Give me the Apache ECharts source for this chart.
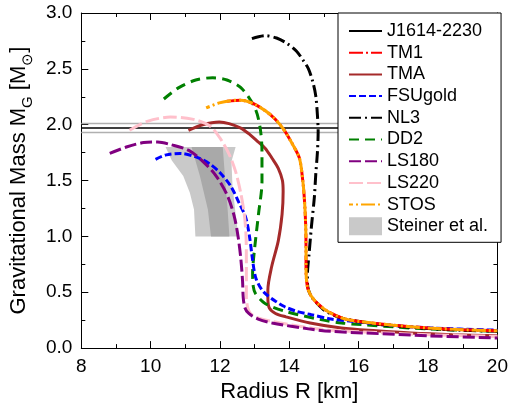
<!DOCTYPE html>
<html>
<head>
<meta charset="utf-8">
<script src="https://cdn.jsdelivr.net/npm/echarts@6/dist/echarts.min.js"></script>
<style>
  html, body { margin: 0; padding: 0; background: #fff; }
  #chart { width: 511px; height: 408px; }
</style>
</head>
<body>
<div id="chart"></div>
<script>
// Mass-radius relations [R (km), M (solar masses)] for each equation of state
const TM1 = [[12.2,2.21],[12.6,2.22],[13.02,2.18],[13.49,2.08],[13.82,1.965],[14.1,1.82],[14.29,1.70],[14.39,1.49],[14.44,1.30],[14.47,1.10],[14.48,0.90],[14.48,0.70],[14.52,0.55],[14.62,0.47],[14.81,0.40],[15.1,0.33],[15.56,0.265],[16.1,0.235],[17.0,0.205],[18.0,0.18],[19.0,0.165],[20.0,0.155]];
const STOS = [[11.6,2.15],[11.98,2.195],[12.3,2.215],[12.6,2.22],[13.02,2.18],[13.49,2.08],[13.82,1.965],[14.1,1.82],[14.29,1.70],[14.39,1.49],[14.44,1.30],[14.47,1.10],[14.48,0.90],[14.48,0.70],[14.52,0.55],[14.62,0.47],[14.81,0.40],[15.1,0.33],[15.56,0.265],[16.1,0.235],[17.0,0.205],[18.0,0.18],[19.0,0.165],[20.0,0.155]];
const TMA = [[11.09,1.95],[11.5,2.0],[11.98,2.024],[12.26,2.01],[12.6,1.97],[12.83,1.92],[13.05,1.86],[13.3,1.79],[13.5,1.70],[13.68,1.61],[13.8,1.50],[13.82,1.40],[13.79,1.20],[13.68,0.96],[13.49,0.73],[13.38,0.52],[13.38,0.45],[13.42,0.36],[13.6,0.31],[13.9,0.28],[14.6,0.225],[15.5,0.18],[16.5,0.155],[17.5,0.135],[18.7,0.12],[20.0,0.11]];
const FSUGOLD = [[10.14,1.69],[10.45,1.73],[10.85,1.743],[11.32,1.71],[11.7,1.65],[12.0,1.57],[12.31,1.45],[12.55,1.30],[12.74,1.17],[12.85,1.0],[12.93,0.81],[13.02,0.64],[13.15,0.55],[13.3,0.49],[13.6,0.42],[13.87,0.37],[14.2,0.33],[14.62,0.30],[15.2,0.26],[15.8,0.24],[16.7,0.21],[18.1,0.18],[20.0,0.16]];
const NL3 = [[12.92,2.77],[13.3,2.797],[13.63,2.776],[13.92,2.73],[14.2,2.66],[14.39,2.58],[14.55,2.50],[14.67,2.39],[14.76,2.26],[14.81,2.08],[14.83,1.935],[14.81,1.76],[14.76,1.55],[14.72,1.35],[14.64,1.10],[14.57,0.85],[14.52,0.65],[14.53,0.55],[14.62,0.47],[14.8,0.40],[15.05,0.33],[15.5,0.27],[16.3,0.225],[17.0,0.20],[18.0,0.175],[19.0,0.16],[20.0,0.15]];
const DD2 = [[10.38,2.23],[10.8,2.33],[11.3,2.40],[11.79,2.42],[12.2,2.40],[12.64,2.32],[13.02,2.14],[13.16,1.965],[13.21,1.76],[13.21,1.49],[13.11,1.20],[13.0,0.90],[12.94,0.67],[12.96,0.55],[13.02,0.49],[13.3,0.40],[13.87,0.33],[14.91,0.255],[15.5,0.225],[16.1,0.21],[17.0,0.19],[18.1,0.17],[20.0,0.152]];
const LS180 = [[8.82,1.743],[9.3,1.80],[9.8,1.84],[10.2,1.845],[10.6,1.82],[11.1,1.77],[11.51,1.67],[11.89,1.54],[12.22,1.36],[12.41,1.18],[12.52,1.0],[12.6,0.80],[12.65,0.6],[12.67,0.45],[12.72,0.36],[12.83,0.31],[13.1,0.26],[13.5,0.225],[14.6,0.17],[15.2,0.15],[16.2,0.135],[18.0,0.11],[20.0,0.09]];
const LS220 = [[9.39,1.95],[9.9,2.03],[10.57,2.068],[11.2,2.05],[11.7,1.99],[12.0,1.88],[12.27,1.73],[12.45,1.58],[12.59,1.40],[12.7,1.20],[12.75,1.0],[12.76,0.76],[12.76,0.46],[12.8,0.36],[12.88,0.31],[13.1,0.27],[13.49,0.24],[14.62,0.18],[15.2,0.16],[16.5,0.14],[18.0,0.12],[20.0,0.105]];

// Pulsar mass J1614-2230 with its uncertainty
const J1614_MASS = 1.97;
const J1614_ERR = 0.04;
const R_RANGE = [8, 20];

// Steiner et al. radius constraint: outer and inner confidence regions
const STEINER_OUTER = [[10.43,1.8],[12.45,1.8],[12.33,1.67],[12.36,1.45],[12.45,1.2],[12.53,1.0],[11.29,1.0],[11.25,1.24],[11.13,1.39],[10.94,1.54],[10.61,1.68]];
const STEINER_INNER = [[11.18,1.8],[12.08,1.8],[12.15,1.5],[12.22,1.24],[12.27,1.0],[11.74,1.0],[11.65,1.24],[11.42,1.54]];
const STEINER_POLYGONS = [STEINER_OUTER, STEINER_INNER];
const STEINER_COLORS = ['#c9c9c9', '#a9a9a9'];

const FONT = 'Liberation Sans';

const chart = echarts.init(document.getElementById('chart'), null, { renderer: 'canvas' });

function curve(name, data, color, dash, offset) {
  return {
    name: name,
    type: 'line',
    data: data,
    symbol: 'none',
    smooth: 0.3,
    clip: true,
    lineStyle: { color: color, width: 3, type: dash, dashOffset: offset || 0, cap: 'butt' },
    itemStyle: { color: color },
    emphasis: { disabled: true }
  };
}

function hline(name, m, color, width) {
  return {
    name: name,
    type: 'line',
    data: [[R_RANGE[0], m], [R_RANGE[1], m]],
    symbol: 'none',
    lineStyle: { color: color, width: width, type: 'solid' },
    itemStyle: { color: color },
    emphasis: { disabled: true }
  };
}

const axisCommon = {
  axisLine: { show: true, onZero: false, lineStyle: { color: '#000', width: 1 } },
  axisTick: { show: true, inside: true, length: 7, lineStyle: { color: '#000', width: 1 } },
  minorTick: { show: true, splitNumber: 2, length: 4, lineStyle: { color: '#000', width: 1 } },
  splitLine: { show: false },
  minorSplitLine: { show: false }
};

const option = {
  animation: false,
  backgroundColor: '#fff',
  textStyle: { fontFamily: FONT },
  grid: { left: 76, right: 11, top: 13, bottom: 56, containLabel: false },
  xAxis: [
    Object.assign({
      type: 'value', min: R_RANGE[0], max: R_RANGE[1], interval: 2, position: 'bottom',
      name: 'Radius R [km]', nameLocation: 'middle', nameGap: 30,
      nameTextStyle: { fontSize: 22, color: '#000', fontFamily: FONT },
      axisLabel: { fontSize: 19, color: '#000', margin: 9, fontFamily: FONT }
    }, axisCommon),
    Object.assign({
      type: 'value', min: R_RANGE[0], max: R_RANGE[1], interval: 2, position: 'top',
      axisLabel: { show: false }
    }, axisCommon)
  ],
  yAxis: [
    Object.assign({
      type: 'value', min: 0, max: 3, interval: 0.5, position: 'left',
      name: '{t|Gravitational Mass M}{s|G}{t| [M}{s|\u2299}{t|]}',
      nameLocation: 'middle', nameGap: 46, nameRotate: 90,
      nameTextStyle: {
        color: '#000', fontFamily: FONT,
        rich: {
          t: { fontSize: 22, lineHeight: 22, verticalAlign: 'top', color: '#000', fontFamily: FONT },
          s: { fontSize: 15, lineHeight: 27, verticalAlign: 'bottom', color: '#000', fontFamily: FONT }
        }
      },
      axisLabel: { fontSize: 19, color: '#000', margin: 9, fontFamily: FONT,
        formatter: v => v.toFixed(1) }
    }, axisCommon),
    Object.assign({
      type: 'value', min: 0, max: 3, interval: 0.5, position: 'right',
      axisLabel: { show: false }
    }, axisCommon)
  ],
  legend: {
    left: 338, top: 13,
    orient: 'vertical',
    backgroundColor: '#fff',
    borderColor: '#000', borderWidth: 1, borderRadius: 0,
    padding: [9, 13, 7, 10],
    itemWidth: 33, itemHeight: 18, itemGap: 3.7,
    itemStyle: { opacity: 0 },
    textStyle: { fontSize: 18, lineHeight: 18, color: '#000', fontFamily: FONT },
    data: [
      'J1614-2230', 'TM1', 'TMA', 'FSUgold', 'NL3', 'DD2', 'LS180', 'LS220', 'STOS',
      { name: 'Steiner et al.', icon: 'rect', itemStyle: { color: '#c9c9c9', opacity: 1 } }
    ],
    selectedMode: false
  },
  series: [
    {
      name: 'Steiner et al.',
      type: 'custom',
      itemStyle: { color: '#c9c9c9' },
      data: STEINER_POLYGONS.map(p => p[0]),
      renderItem: function (params, api) {
        const poly = STEINER_POLYGONS[params.dataIndex];
        return {
          type: 'polygon',
          shape: { points: poly.map(p => api.coord(p)) },
          style: { fill: STEINER_COLORS[params.dataIndex], stroke: null }
        };
      },
      z: 1
    },
    hline('J1614-2230 +1σ', J1614_MASS + J1614_ERR, '#b0b0b0', 1.5),
    hline('J1614-2230 -1σ', J1614_MASS - J1614_ERR, '#b0b0b0', 1.5),
    hline('J1614-2230', J1614_MASS, '#000', 1.5),
    curve('TMA', TMA, '#a52a2a', 'solid'),
    curve('DD2', DD2, '#008000', [10, 6]),
    curve('FSUgold', FSUGOLD, '#0000ff', [7, 3]),
    curve('LS220', LS220, '#ffc0cb', [14, 4]),
    curve('LS180', LS180, '#800080', [12, 4]),
    curve('NL3', NL3, '#000', [12, 4, 2, 4]),
    curve('TM1', TM1, '#ff0000', [14, 3, 2, 3]),
    curve('STOS', STOS, '#ffa500', [14, 3, 2, 3], 10)
  ]
};

chart.setOption(option);
</script>
</body>
</html>
